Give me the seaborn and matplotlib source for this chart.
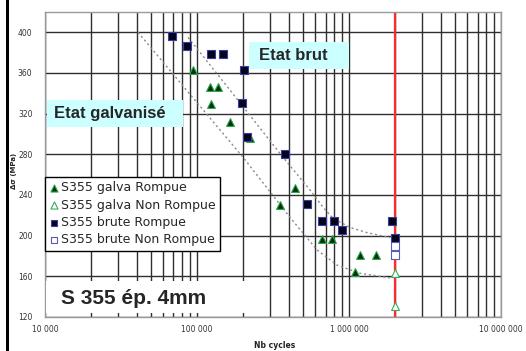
import matplotlib
matplotlib.use("Agg")
import matplotlib.pyplot as plt
from matplotlib.patches import Rectangle
from matplotlib.ticker import FixedLocator, LogLocator, NullFormatter
import seaborn as sns
import pandas as pd

# S-N test results, S355 4 mm plate (cycles, stress range in MPa)
galva_rompue_n = [94200, 122000, 137000, 123000, 165000, 223000, 351000,
                  441000, 664000, 773000, 1095000, 1180000, 1500000]
galva_rompue_s = [363, 346, 346, 329, 312, 296, 230, 247, 197, 197, 164, 181, 181]

galva_non_rompue_n = [2000000, 2000000]
galva_non_rompue_s = [163, 131]

brute_rompue_n = [68500, 85900, 123500, 148000, 204000, 198000, 213000, 379000,
                  530000, 664000, 796000, 899000, 1920000, 2000000]
brute_rompue_s = [396, 387, 379, 379, 363, 330, 297, 280, 231, 214, 214, 206, 214, 198]

brute_non_rompue_n = [2000000, 2000000]
brute_non_rompue_s = [190, 181]

# hand-traced trend curves
courbe_galva_n = [40900, 89900, 201000, 409000, 615000, 834000, 1180000, 1950000]
courbe_galva_s = [400, 339, 277, 218, 186, 171, 163, 158]
courbe_brut_n = [87300, 165000, 368000, 553000, 674000, 785000, 1016000, 1312000, 1862000]
courbe_brut_s = [395, 343, 277, 245, 228, 217, 208, 203, 198]

limite_cycles = 2000000

y_ticks = [120, 160, 200, 240, 280, 320, 360, 400]
x_ticks = [1e4, 1e5, 1e6, 1e7]
x_tick_labels = ["10 000", "100 000", "1 000 000", "10 000 000"]

sns.set_style("white")
plt.rcParams["font.family"] = ["DejaVu Sans"]

fig = plt.figure(figsize=(5.26, 3.51), dpi=100)
ax = fig.add_axes([0.0856, 0.0969, 0.867, 0.869])
ax.set_xscale("log")
ax.set_xlim(1e4, 1e7)
ax.set_ylim(120, 420)

# grid
ax.xaxis.set_major_locator(FixedLocator(x_ticks))
ax.xaxis.set_minor_locator(LogLocator(base=10, subs=range(2, 10)))
ax.xaxis.set_minor_formatter(NullFormatter())
ax.set_xticks(x_ticks)
ax.set_xticklabels(x_tick_labels)
ax.set_yticks(y_ticks)
ax.grid(True, which="major", axis="both", color="#2e2e2e", lw=1.0, zorder=0)
ax.grid(True, which="minor", axis="x", color="#2e2e2e", lw=1.0, zorder=0)
ax.set_axisbelow(True)
for sp in ax.spines.values():
    sp.set_color("#9a9a9a")
    sp.set_linewidth(1.0)
ax.tick_params(axis="both", which="both", labelsize=5.5, colors="#333333",
               length=3, width=0.8, direction="out")
ax.tick_params(axis="y", pad=6)
ax.tick_params(axis="x", pad=3)
ax.tick_params(axis="x", which="minor", length=0)

# trend curves
df_g = pd.DataFrame({"n": courbe_galva_n, "s": courbe_galva_s})
df_b = pd.DataFrame({"n": courbe_brut_n, "s": courbe_brut_s})
sns.lineplot(data=df_g, x="n", y="s", sort=False, estimator=None, ax=ax,
             color="#8a8a8a", lw=1.0, linestyle=(0, (1.5, 2)), zorder=2)
sns.lineplot(data=df_b, x="n", y="s", sort=False, estimator=None, ax=ax,
             color="#8a8a8a", lw=1.0, linestyle=(0, (1.5, 2)), zorder=2)

# 2 million cycles limit
ax.axvline(limite_cycles, color="#ff2a2a", lw=1.6, zorder=2)

# test points
sns.scatterplot(x=galva_rompue_n, y=galva_rompue_s, ax=ax, marker="^", s=32,
                color="#062f0c", edgecolor="#2aa84a", linewidth=0.8,
                label="S355 galva Rompue", zorder=4)
sns.scatterplot(x=galva_non_rompue_n, y=galva_non_rompue_s, ax=ax, marker="^", s=32,
                color="white", edgecolor="#3aaa5a", linewidth=0.8,
                label="S355 galva Non Rompue", zorder=4)
sns.scatterplot(x=brute_rompue_n, y=brute_rompue_s, ax=ax, marker="s", s=27,
                color="#05051a", edgecolor="#3a3aa8", linewidth=0.8,
                label="S355 brute Rompue", zorder=4)
sns.scatterplot(x=brute_non_rompue_n, y=brute_non_rompue_s, ax=ax, marker="s", s=27,
                color="white", edgecolor="#5a5ab8", linewidth=0.8,
                label="S355 brute Non Rompue", zorder=4)
ax.set_xlabel("")
ax.set_ylabel("")

leg = ax.legend(loc="upper left", bbox_to_anchor=(0.0, 0.459), borderaxespad=0,
                fontsize=9, frameon=True, fancybox=False, framealpha=1,
                edgecolor="black", handlelength=0.7, handletextpad=0.25,
                labelspacing=0.35, borderpad=0.35, markerscale=0.9)
leg.get_frame().set_linewidth(1.0)
leg.set_zorder(6)

# captions
ax.add_patch(Rectangle((0.447, 0.813), 0.220, 0.089, transform=ax.transAxes,
                       facecolor="#ccffff", edgecolor="none", zorder=5))
ax.text(0.544, 0.857, "Etat brut", transform=ax.transAxes, ha="center", va="center",
        fontsize=12, fontweight="bold", family=["Liberation Sans"], zorder=6)
ax.add_patch(Rectangle((0.004, 0.623), 0.299, 0.088, transform=ax.transAxes,
                       facecolor="#ccffff", edgecolor="none", zorder=5))
ax.text(0.020, 0.667, "Etat galvanisé", transform=ax.transAxes, ha="left", va="center",
        fontsize=12, fontweight="bold", family=["Liberation Sans"], zorder=6)
ax.add_patch(Rectangle((0.002, 0.012), 0.437, 0.106, transform=ax.transAxes,
                       facecolor="white", edgecolor="none", zorder=5))
ax.text(0.195, 0.061, "S 355 ép. 4mm", transform=ax.transAxes, ha="center", va="center",
        fontsize=15, fontweight="bold", family=["Liberation Sans"], zorder=6)

# axis titles
fig.text(0.027, 0.513, "Δσ (MPa)", rotation=90, ha="center", va="center",
         fontsize=5, fontweight="bold", color="#222222")
fig.text(0.523, 0.017, "Nb cycles", ha="center", va="center",
         fontsize=5.5, fontweight="bold", color="#222222")

# left border bar
fig.patches.append(Rectangle((0.0114, 0.0), 0.0057, 1.0, transform=fig.transFigure,
                             facecolor="black", edgecolor="none"))

fig.savefig("out.png", dpi=100)
